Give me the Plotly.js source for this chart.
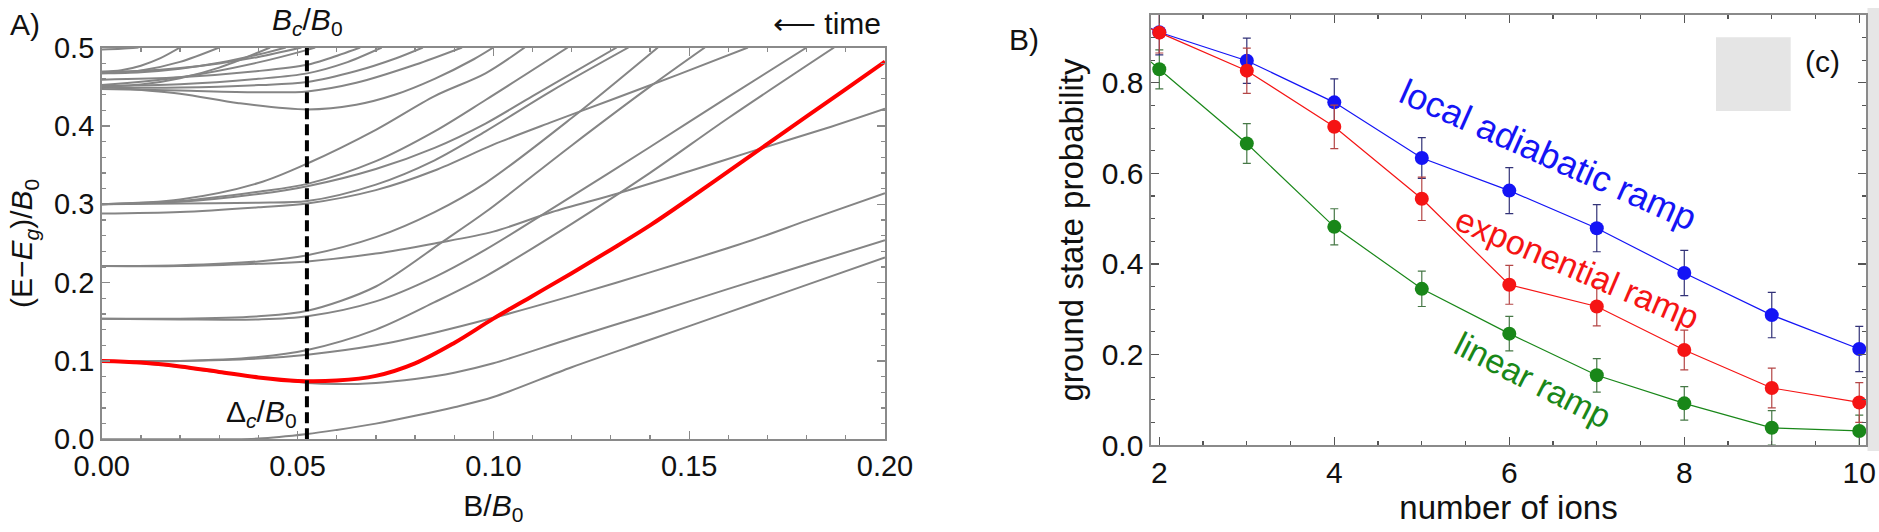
<!DOCTYPE html>
<html><head><meta charset="utf-8">
<script src="https://cdn.plot.ly/plotly-3.0.1.min.js"></script>
<style>html,body{margin:0;padding:0;background:#fff}#chart{width:1879px;height:532px}</style>
</head><body><div id="chart"></div>
<script>
// ================= Panel A data: energy levels (B/B0, (E-Eg)/B0) =================
const criticalB = 0.0524;
const redLevel = [[0,0.1],[0.01,0.098],[0.02,0.093],[0.03,0.086],[0.04,0.079],[0.05,0.0745],[0.06,0.075],[0.07,0.081],[0.08,0.097],[0.09,0.123],[0.1,0.154],[0.11,0.183],[0.12,0.212],[0.13,0.242],[0.14,0.273],[0.15,0.307],[0.16,0.342],[0.17,0.377],[0.18,0.412],[0.19,0.447],[0.2,0.482]];
const levelC0 = [[0,0],[0.02,0],[0.04,0.001],[0.0525,0.0068],[0.06,0.012],[0.07,0.02],[0.08,0.03],[0.09,0.041],[0.1,0.054],[0.12,0.092],[0.14,0.127],[0.16,0.162],[0.18,0.197],[0.2,0.232]];
const levelC1 = [[0,0.1],[0.015,0.095],[0.032,0.084],[0.0525,0.072],[0.06,0.0705],[0.07,0.072],[0.08,0.077],[0.09,0.085],[0.1,0.097],[0.12,0.129],[0.14,0.16],[0.16,0.192],[0.18,0.223],[0.2,0.254]];
const levelC2 = [[0,0.1],[0.02,0.1],[0.04,0.103],[0.0525,0.108],[0.07,0.12],[0.085,0.136],[0.1,0.155],[0.12,0.183],[0.14,0.213],[0.166,0.254],[0.18,0.279],[0.2,0.314]];
const levelC2b = [[0,0.1],[0.02,0.1],[0.04,0.105],[0.0525,0.114],[0.07,0.14],[0.085,0.175],[0.098,0.208],[0.12,0.275],[0.14,0.34],[0.16,0.41],[0.187,0.5]];
const levelLa = [[0,0.154],[0.02,0.153],[0.04,0.153],[0.0525,0.157],[0.07,0.176],[0.085,0.207],[0.098,0.242],[0.12,0.31],[0.14,0.373],[0.16,0.437],[0.18,0.5]];
const levelLb = [[0,0.154],[0.02,0.154],[0.04,0.157],[0.0525,0.164],[0.07,0.195],[0.087,0.252],[0.098,0.29],[0.12,0.375],[0.14,0.45],[0.154,0.5]];
const levelF1 = [[0,0.221],[0.02,0.221],[0.04,0.224],[0.0525,0.227],[0.07,0.237],[0.085,0.25],[0.1,0.265],[0.115,0.29],[0.132,0.314],[0.15,0.342],[0.167,0.369],[0.185,0.397],[0.2,0.422]];
const levelF2 = [[0,0.221],[0.02,0.222],[0.04,0.227],[0.0525,0.235],[0.07,0.258],[0.085,0.29],[0.098,0.327],[0.12,0.41],[0.142,0.5]];
const levelS1 = [[0,0.288],[0.02,0.29],[0.04,0.296],[0.0525,0.301],[0.07,0.318],[0.085,0.343],[0.1,0.376],[0.115,0.405],[0.13,0.433],[0.147,0.465],[0.165,0.5]];
const levelS2 = [[0,0.3],[0.02,0.301],[0.04,0.302],[0.0525,0.304],[0.07,0.325],[0.085,0.356],[0.098,0.393],[0.115,0.445],[0.1345,0.5]];
const levelS3 = [[0,0.3],[0.02,0.303],[0.04,0.313],[0.0525,0.323],[0.07,0.345],[0.085,0.372],[0.098,0.403],[0.11,0.438],[0.1315,0.5]];
const levelS4 = [[0,0.3],[0.02,0.304],[0.04,0.316],[0.0525,0.326],[0.07,0.355],[0.085,0.393],[0.098,0.433],[0.119,0.5]];
const levelS5 = [[0,0.3],[0.02,0.306],[0.04,0.327],[0.0525,0.352],[0.07,0.395],[0.085,0.438],[0.098,0.467],[0.108,0.5]];
const levelU1 = [[0,0.45],[0.02,0.441],[0.035,0.429],[0.0525,0.421],[0.065,0.427],[0.075,0.44],[0.085,0.46],[0.095,0.485],[0.1,0.5]];
const levelU2 = [[0,0.447],[0.02,0.445],[0.04,0.443],[0.0525,0.444],[0.065,0.455],[0.08,0.478],[0.092,0.5]];
const levelU3 = [[0,0.449],[0.02,0.449],[0.04,0.452],[0.0525,0.456],[0.065,0.47],[0.075,0.486],[0.082,0.5]];
const levelU4 = [[0,0.451],[0.02,0.453],[0.04,0.46],[0.0525,0.467],[0.062,0.48],[0.0715,0.5]];
const levelU5 = [[0,0.459],[0.02,0.462],[0.04,0.47],[0.0525,0.478],[0.058,0.486],[0.066,0.5]];
const levelU6 = [[0,0.452],[0.02,0.462],[0.04,0.481],[0.0525,0.497],[0.0545,0.5]];
const levelE1 = [[0,0.4975],[0.005,0.4985],[0.0094,0.5]];
const levelE2 = [[0,0.469],[0.005,0.471],[0.01,0.4768],[0.015,0.4864],[0.02,0.5]];
const levelE3 = [[0,0.467],[0.01,0.4707],[0.02,0.4817],[0.03,0.5]];
const levelE4 = [[0,0.45],[0.01,0.4527],[0.02,0.4608],[0.03,0.4743],[0.043,0.5]];
const levelE5 = [[0,0.467],[0.01,0.4685],[0.02,0.473],[0.03,0.4805],[0.04,0.491],[0.047,0.5]];
const levelE6 = [[0,0.469],[0.01,0.4702],[0.02,0.4738],[0.03,0.4797],[0.04,0.488],[0.051,0.5]];
const grayLevels = [levelC0,levelC1,levelC2,levelC2b,levelLa,levelLb,levelF1,levelF2,levelS1,levelS2,levelS3,levelS4,levelS5,
  levelU1,levelU2,levelU3,levelU4,levelU5,levelU6,levelE1,levelE2,levelE3,levelE4,levelE5,levelE6];

// ================= Panel B data: ground state probability =================
const numIons = [1,2,3,4,5,6,7,8,9,10];
const localAdiabatic = [1.0,0.912,0.849,0.757,0.634,0.562,0.479,0.380,0.287,0.212];
const localAdiabaticErr = [0,0.05,0.05,0.052,0.045,0.051,0.052,0.05,0.05,0.05];
const exponential = [1.0,0.911,0.827,0.703,0.544,0.354,0.306,0.210,0.126,0.094];
const exponentialErr = [0,0.045,0.05,0.048,0.048,0.043,0.043,0.044,0.044,0.044];
const linear = [1.0,0.830,0.666,0.482,0.345,0.246,0.154,0.092,0.038,0.031];
const linearErr = [0,0.043,0.044,0.04,0.039,0.038,0.037,0.037,0.038,0.035];

// ================= helpers =================
const W = 1879, H = 532;
const px = v => v / W;
const py = v => 1 - v / H;
const FONT = 'Liberation Sans, Arial, sans-serif';

const traces = [];
grayLevels.forEach(lv => traces.push({
  x: lv.map(p => p[0]), y: lv.map(p => p[1]), type: 'scatter', mode: 'lines',
  line: {color: '#858585', width: 2, shape: 'spline', smoothing: 0.9},
  xaxis: 'x', yaxis: 'y', hoverinfo: 'skip', showlegend: false
}));
traces.push({
  x: redLevel.map(p => p[0]), y: redLevel.map(p => p[1]), type: 'scatter', mode: 'lines',
  line: {color: '#ff0000', width: 4, shape: 'spline', smoothing: 1},
  xaxis: 'x', yaxis: 'y', showlegend: false
});
traces.push({
  x: [criticalB, criticalB], y: [0, 0.5], type: 'scatter', mode: 'lines',
  line: {color: '#000', width: 4, dash: '11px,5px'}, xaxis: 'x', yaxis: 'y', showlegend: false
});

function series(y, err, col, errCol) {
  return {
    x: numIons, y: y, type: 'scatter', mode: 'lines+markers', xaxis: 'x2', yaxis: 'y2', showlegend: false,
    line: {color: col, width: 1.2}, marker: {color: col, size: 14},
    error_y: {type: 'data', array: err, visible: true, color: errCol, thickness: 1.2, width: 4}
  };
}
traces.push(series(linear, linearErr, 'rgb(25,135,25)', 'rgb(70,120,70)'));
traces.push(series(localAdiabatic, localAdiabaticErr, 'rgb(20,20,245)', 'rgb(50,50,120)'));
traces.push(series(exponential, exponentialErr, 'rgb(245,20,20)', 'rgb(180,70,70)'));

const axA = {
  showline: true, linecolor: '#8a8a8a', linewidth: 1.6, mirror: 'ticks', ticks: 'inside', ticklen: 8,
  tickcolor: '#8a8a8a', tickwidth: 1.3, showgrid: false, zeroline: false, automargin: false,
  tickfont: {family: FONT, size: 29, color: '#111'}
};
const axB = {
  showline: true, linecolor: '#8a8a8a', linewidth: 1.6, mirror: 'ticks', ticks: 'inside', ticklen: 8,
  tickcolor: '#555', tickwidth: 1.2, showgrid: false, zeroline: false, automargin: false,
  tickfont: {family: FONT, size: 30, color: '#111'}
};
const titleFont = s => ({family: FONT, size: s, color: '#111'});

const layout = {
  width: W, height: H, margin: {l: 0, r: 0, t: 0, b: 0}, paper_bgcolor: '#fff', plot_bgcolor: '#fff',
  xaxis: Object.assign({}, axA, {domain: [px(101.7), px(885)], range: [0, 0.2], dtick: 0.05, tick0: 0, tickformat: '.2f',
    minor: {dtick: 0.01, ticks: 'inside', ticklen: 4, tickcolor: '#8a8a8a'}, anchor: 'y',
    title: {text: 'B/<i>B</i><sub>0</sub>', font: titleFont(30), standoff: 14}}),
  yaxis: Object.assign({}, axA, {domain: [py(439.3), py(47.5)], range: [0, 0.5], dtick: 0.1, tick0: 0, tickformat: '.1f',
    minor: {dtick: 0.02, ticks: 'inside', ticklen: 4, tickcolor: '#8a8a8a'}, anchor: 'x',
    title: {text: '(E−<i>E</i><sub><i>g</i></sub>)/<i>B</i><sub>0</sub>', font: titleFont(30), standoff: 12}}),
  xaxis2: Object.assign({}, axB, {domain: [px(1151), px(1866)], range: [1.905, 10.077], dtick: 2, tick0: 2,
    minor: {dtick: 0.5, ticks: 'inside', ticklen: 4, tickcolor: '#555'}, anchor: 'y2',
    title: {text: 'number of ions', font: titleFont(33), standoff: 8}}),
  yaxis2: Object.assign({}, axB, {domain: [py(445), py(15)], range: [0, 0.95], dtick: 0.2, tick0: 0, tickformat: '.1f',
    minor: {dtick: 0.05, ticks: 'inside', ticklen: 4, tickcolor: '#555'}, anchor: 'x2',
    title: {text: 'ground state probability', font: titleFont(33), standoff: 8}}),
  shapes: [
    {type: 'rect', xref: 'paper', yref: 'paper', x0: px(1716), x1: px(1790.7), y0: py(111), y1: py(37.3),
     fillcolor: '#e5e5e5', line: {width: 0}, layer: 'below'},
    {type: 'rect', xref: 'paper', yref: 'paper', x0: px(1867.5), x1: 1, y0: py(451), y1: py(8),
     fillcolor: '#e6e6e6', line: {width: 0}, layer: 'below'}
  ],
  annotations: [
    {text: 'A)', x: px(25), y: py(25)},
    {text: '<i>B</i><sub><i>c</i></sub>/<i>B</i><sub>0</sub>', x: px(307), y: py(22)},
    {text: '⟵ time', x: px(883), y: py(23), xanchor: 'right'},
    {text: 'Δ<sub><i>c</i></sub>/<i>B</i><sub>0</sub>', x: px(299), y: py(413), xanchor: 'right'},
    {text: 'B)', x: px(1024), y: py(39)},
    {text: '(c)', x: px(1822), y: py(62), fs: 30},
    {text: 'local adiabatic ramp', x: px(1548), y: py(155), textangle: 24, fs: 36, color: 'rgb(20,20,245)'},
    {text: 'exponential ramp', x: px(1577), y: py(268), textangle: 23, fs: 34, color: 'rgb(245,20,20)'},
    {text: 'linear ramp', x: px(1533), y: py(380), textangle: 27, fs: 34, color: 'rgb(25,135,25)'}
  ].map(a => ({
    text: a.text, x: a.x, y: a.y, xref: 'paper', yref: 'paper', showarrow: false,
    xanchor: a.xanchor || 'center', yanchor: 'middle', textangle: a.textangle || 0,
    font: {family: FONT, size: a.fs || 30, color: a.color || '#111'}
  }))
};

Plotly.newPlot('chart', traces, layout, {staticPlot: true});
</script></body></html>
